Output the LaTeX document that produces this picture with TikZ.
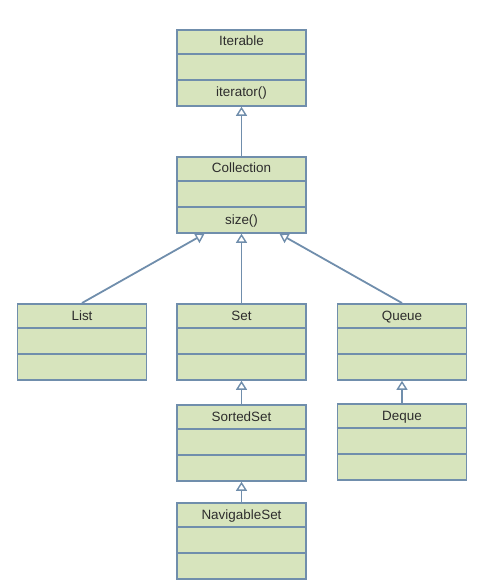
\documentclass[tikz,border=0pt]{standalone}
\usepackage{fontspec}
\setmainfont{Liberation Sans}
\usetikzlibrary{arrows.meta}
\definecolor{boxfill}{RGB}{215,228,189}
\definecolor{boxline}{RGB}{112,142,172}
\definecolor{txt}{RGB}{45,45,45}
\tikzset{
  classbox/.style={draw=boxline, fill=boxfill, line width=1.8bp, minimum width=129bp, minimum height=76bp, inner sep=0pt, anchor=north},
  divider/.style={draw=boxline, line width=1.8bp},
  cltext/.style={text=txt, font=\fontsize{13.5}{15}\selectfont, inner sep=0pt, anchor=base},
  inherit/.style={draw=boxline, line width=1.8bp, -{Triangle[open, fill=white, length=9bp, width=11bp, line width=1.4bp]}}
}
\newcommand{\umlclass}[5]{%
  \node[classbox] (#1) at (#2,#3) {};
  \draw[divider] ([yshift=-25bp]#1.north west) -- ([yshift=-25bp]#1.north east);
  \draw[divider] ([yshift=-51bp]#1.north west) -- ([yshift=-51bp]#1.north east);
  \node[cltext] (#1-t) at ([yshift=-17bp]#1.north) {#4};
  \node[cltext] (#1-m) at ([yshift=-68bp]#1.north) {#5};
}
\begin{document}
\begin{tikzpicture}[x=1bp,y=-1bp]
\useasboundingbox (0,0) rectangle (489,584);
\umlclass{iter}{241.5}{29}{Iterable}{iterator()}
\umlclass{coll}{241.5}{156}{Collection}{size()}
\umlclass{list}{82}{303}{List}{}
\umlclass{set}{241.5}{303}{Set}{}
\umlclass{queue}{402}{303}{Queue}{}
\umlclass{sorted}{241.5}{404}{SortedSet}{}
\umlclass{nav}{241.5}{502}{NavigableSet}{}
\umlclass{deque}{402}{403}{Deque}{}
\draw[inherit] (coll.north) -- (iter.south);
\draw[inherit] (list.north) -- ([xshift=-37bp]coll.south);
\draw[inherit] (set.north) -- (coll.south);
\draw[inherit] (queue.north) -- ([xshift=38bp]coll.south);
\draw[inherit] (sorted.north) -- (set.south);
\draw[inherit] (nav.north) -- (sorted.south);
\draw[inherit] (deque.north) -- (queue.south);
\end{tikzpicture}
\end{document}
